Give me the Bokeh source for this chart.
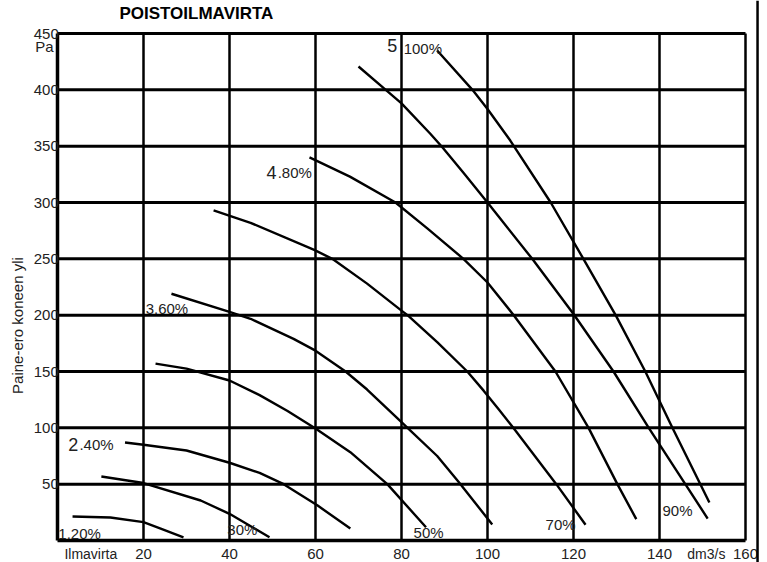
import math
from bokeh.plotting import figure
from bokeh.models import Range1d, Span
from bokeh.core.properties import value
from bokeh.embed import file_html
from bokeh.resources import INLINE

# ---------------- data ----------------
X_TICKS = [20, 40, 60, 80, 100, 120, 140, 160]
Y_TICKS = [50, 100, 150, 200, 250, 300, 350, 400, 450]
X_MAX = 160
Y_MAX = 450

# fan curves (air flow dm3/s, pressure Pa)
c20_x = [3.5, 12.3, 20.0, 24.0, 29.3]
c20_y = [21.3, 20.4, 16.3, 10.6, 2.7]
c30_x = [10.2, 20.0, 33.3, 40.0, 49.3]
c30_y = [56.8, 51.0, 35.5, 23.7, 2.9]
c40_x = [15.7, 20.0, 30.0, 40.0, 47.0, 52.6, 60.5, 68.1]
c40_y = [87.0, 85.0, 79.9, 69.0, 60.0, 50.0, 31.0, 10.6]
c50_x = [22.8, 30.0, 40.0, 47.0, 53.5, 60.0, 68.1, 76.7, 85.7]
c50_y = [157.0, 152.5, 142.0, 129.0, 115.0, 99.4, 78.4, 50.0, 11.8]
c60_x = [26.5, 40.0, 44.9, 54.9, 60.0, 67.0, 72.0, 80.0, 81.4, 88.3, 93.3, 101.1]
c60_y = [219.0, 203.0, 196.8, 179.0, 168.5, 150.0, 134.0, 105.0, 100.0, 75.0, 52.0, 14.2]
c70_x = [36.3, 44.9, 59.7, 63.9, 72.0, 80.0, 81.4, 88.3, 95.3, 99.1, 102.5, 106.0, 116.0, 122.8]
c70_y = [293.0, 282.0, 258.0, 250.0, 228.0, 204.0, 200.0, 176.0, 150.0, 133.0, 117.0, 100.0, 50.0, 14.0]
c80_x = [58.6, 68.0, 78.6, 86.0, 94.4, 100.0, 106.1, 115.8, 123.5, 130.2, 134.6]
c80_y = [340.0, 323.0, 300.0, 277.0, 250.0, 229.0, 200.0, 150.0, 100.0, 50.0, 19.0]
c90_x = [70.0, 76.0, 80.0, 86.7, 89.5, 94.5, 100.0, 103.0, 110.4, 120.0, 129.3, 137.5, 146.0, 151.2]
c90_y = [420.7, 401.0, 388.0, 361.0, 349.0, 326.0, 300.0, 285.5, 250.0, 201.0, 150.0, 100.0, 50.0, 19.5]
c100_x = [88.3, 96.5, 100.0, 105.3, 114.7, 122.3, 129.8, 136.7, 143.0, 149.5, 151.6]
c100_y = [434.9, 400.0, 383.0, 355.0, 300.0, 250.0, 200.0, 150.0, 100.0, 50.0, 33.7]

CURVES_X = [c20_x, c30_x, c40_x, c50_x, c60_x, c70_x, c80_x, c90_x, c100_x]
CURVES_Y = [c20_y, c30_y, c40_y, c50_y, c60_y, c70_y, c80_y, c90_y, c100_y]

TITLE = "POISTOILMAVIRTA"
Y_LABEL = "Paine-ero koneen yli"

# ---------------- layout ----------------
W, H = 767, 562
PX_X = 688 / 160.0
PX_Y = 507 / 450.0
LEFT = 57      # canvas px of x = 0
BOTTOM = 22    # canvas px (from bottom) of y = 0

p = figure(width=W, height=H,
           x_range=Range1d(-LEFT / PX_X, (W - LEFT) / PX_X),
           y_range=Range1d(-BOTTOM / PX_Y, (H - BOTTOM) / PX_Y),
           x_axis_type=None, y_axis_type=None,
           output_backend="svg", toolbar_location=None, min_border=0)
p.outline_line_color = None
p.background_fill_color = "white"
p.border_fill_color = "white"

FONT = value("Liberation Sans")
TXT = "#222222"

# grid: vertical
p.segment(x0=X_TICKS, x1=X_TICKS, y0=[0] * len(X_TICKS), y1=[Y_MAX] * len(X_TICKS),
          line_color="black", line_width=2.5)
# grid: horizontal
p.segment(x0=[0] * len(Y_TICKS), x1=[X_MAX] * len(Y_TICKS), y0=Y_TICKS, y1=Y_TICKS,
          line_color="black", line_width=3)
# axes
p.segment(x0=[0, 0], x1=[0, X_MAX], y0=[0, 0], y1=[Y_MAX, 0],
          line_color="black", line_width=3.5)

# page border line at right
p.add_layout(Span(location=162.8, dimension="height", line_color="black", line_width=2.5))

# curves
for cx, cy in zip(CURVES_X, CURVES_Y):
    p.line(cx, cy, line_color="black", line_width=2.4, line_join="round")

# tick labels
p.text(x=[0.3] * len(Y_TICKS), y=Y_TICKS, text=[str(t) for t in Y_TICKS],
       text_font=FONT, text_font_size="15px", text_align="right",
       text_baseline="middle", text_color=TXT)
p.text(x=X_TICKS, y=[-12.4] * len(X_TICKS), text=[str(t) for t in X_TICKS],
       text_font=FONT, text_font_size="15px", text_align="center",
       text_baseline="middle", text_color=TXT)

# units / axis names
p.text(x=[-0.9], y=[438.5], text=["Pa"], text_font=FONT, text_font_size="15px",
       text_align="right", text_baseline="middle", text_color=TXT)
p.text(x=[1.6], y=[-12.4], text=["Ilmavirta"], text_font=FONT, text_font_size="14px",
       text_align="left", text_baseline="middle", text_color=TXT)
p.text(x=[150.9], y=[-12.4], text=["dm3/s"], text_font=FONT, text_font_size="14px",
       text_align="center", text_baseline="middle", text_color=TXT)
p.text(x=[-9.3], y=[190.8], text=[Y_LABEL], angle=math.pi / 2, text_font=FONT,
       text_font_size="15px", text_align="center", text_baseline="middle", text_color=TXT)

# title
p.text(x=[14.4], y=[467.8], text=[TITLE], text_font=FONT, text_font_size="17px",
       text_font_style="bold", text_align="left", text_baseline="middle", text_color="black")

# curve labels
p.text(x=[0.2, 5.1, 20.5, 51.2, 80.5, 39.5, 82.8, 113.5, 140.7],
       y=[6.2, 85.2, 205.5, 326.2, 436.7, 10.2, 7.5, 14.6, 26.6],
       text=["1.20%", ".40%", "3.60%", ".80%", "100%", "30%", "50%", "70%", "90%"],
       text_font=FONT, text_font_size="15px", text_align="left",
       text_baseline="middle", text_color=TXT)
p.text(x=[2.5, 48.6, 76.7], y=[85.2, 326.2, 439.4], text=["2", "4", "5"],
       text_font=FONT, text_font_size="18px", text_align="left",
       text_baseline="middle", text_color=TXT)

open("out.html", "w").write(file_html(p, INLINE))
